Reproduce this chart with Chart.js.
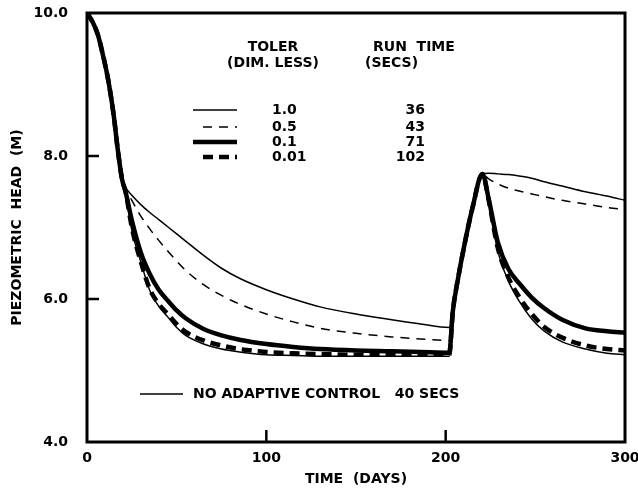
<!DOCTYPE html>
<html>
<head>
<meta charset="utf-8">
<script src="https://cdn.jsdelivr.net/npm/chart.js@4/dist/chart.umd.min.js"></script>
<style>
  body { margin: 0; background: #fff; }
  #wrap { width: 638px; height: 493px; position: relative; }
</style>
</head>
<body>
<div id="wrap"><canvas id="head-chart"></canvas></div>
<script>
// Time axis (days) shared by every run
const days = [0, 3, 6, 9, 12, 15, 17, 19.5, 21.5,
  25, 30, 35, 40, 45, 50, 55,
  65, 75, 85, 100, 115, 130, 150, 170, 186,
  202, 204, 207, 210, 215, 220.5,
  224, 229, 235, 241, 248, 255, 265, 278, 290, 300];

// Piezometric head (m) for each tolerance
const tol10 = [10.0, 9.88, 9.70, 9.40, 9.04, 8.55, 8.12, 7.68, 7.56,
  7.45, 7.32, 7.21, 7.11, 7.01, 6.91, 6.81,
  6.61, 6.43, 6.29, 6.13, 6.00, 5.89, 5.79, 5.71, 5.65,
  5.60, 5.84, 6.30, 6.70, 7.28, 7.75,
  7.76, 7.75, 7.74, 7.72, 7.69, 7.64, 7.58, 7.50, 7.44, 7.38];
const tol05 = [10.0, 9.88, 9.70, 9.40, 9.04, 8.55, 8.12, 7.68, 7.55,
  7.38, 7.16, 6.98, 6.82, 6.67, 6.53, 6.40,
  6.20, 6.05, 5.93, 5.79, 5.68, 5.59, 5.52, 5.47, 5.44,
  5.42, 5.83, 6.30, 6.70, 7.28, 7.75,
  7.68, 7.61, 7.55, 7.51, 7.47, 7.43, 7.38, 7.33, 7.28, 7.25];
const tol01 = [10.0, 9.88, 9.70, 9.40, 9.04, 8.55, 8.12, 7.68, 7.50,
  7.10, 6.65, 6.35, 6.13, 5.98, 5.84, 5.73,
  5.58, 5.49, 5.43, 5.37, 5.33, 5.30, 5.28, 5.27, 5.26,
  5.25, 5.83, 6.30, 6.70, 7.28, 7.75,
  7.40, 6.80, 6.42, 6.22, 6.02, 5.87, 5.71, 5.59, 5.55, 5.53];
const tol001 = [10.0, 9.88, 9.70, 9.40, 9.04, 8.55, 8.12, 7.68, 7.50,
  7.00, 6.52, 6.14, 5.93, 5.79, 5.65, 5.54,
  5.42, 5.35, 5.30, 5.26, 5.24, 5.23, 5.22, 5.22, 5.22,
  5.22, 5.83, 6.30, 6.70, 7.28, 7.75,
  7.38, 6.72, 6.30, 6.03, 5.79, 5.61, 5.46, 5.35, 5.30, 5.28];
const noAdaptive = [10.0, 9.88, 9.70, 9.40, 9.04, 8.55, 8.12, 7.68, 7.48,
  6.96, 6.52, 6.12, 5.90, 5.75, 5.60, 5.49,
  5.37, 5.30, 5.26, 5.22, 5.21, 5.20, 5.20, 5.20, 5.20,
  5.20, 5.83, 6.30, 6.70, 7.28, 7.75,
  7.36, 6.68, 6.25, 5.97, 5.72, 5.55, 5.40, 5.30, 5.24, 5.22];

// Legend table
const tolerLabels = ['1.0', '0.5', '0.1', '0.01'];
const runTimes = ['36', '43', '71', '102'];
const noAdaptiveLabel = 'NO ADAPTIVE CONTROL   40 SECS';

const FONT = '"DejaVu Sans", "Liberation Sans", sans-serif';

function toPoints(values) {
  return days.map((d, i) => ({ x: d, y: values[i] }));
}

function lineSet(values, width, dash) {
  return {
    data: toPoints(values),
    borderColor: '#000',
    borderWidth: width,
    borderDash: dash,
    pointRadius: 0,
    fill: false,
    cubicInterpolationMode: 'monotone',
  };
}

const tolSets = [
  lineSet(tol10, 1.5, []),
  lineSet(tol05, 1.5, [9, 7]),
  lineSet(tol01, 4.5, []),
  lineSet(tol001, 4.5, [10, 6]),
];
const naSet = lineSet(noAdaptive, 1.5, []);

// Box frame and inward ticks
const framePlugin = {
  id: 'frame',
  afterDatasetsDraw(chart) {
    const { ctx, chartArea: a, scales } = chart;
    ctx.save();
    ctx.strokeStyle = '#000';
    ctx.lineWidth = 2.5;
    scales.y.ticks.forEach((t) => {
      if (t.value === scales.y.min || t.value === scales.y.max) return;
      const py = scales.y.getPixelForValue(t.value);
      ctx.beginPath();
      ctx.moveTo(a.left, py);
      ctx.lineTo(a.left + 12, py);
      ctx.stroke();
    });
    scales.x.ticks.forEach((t) => {
      if (t.value === scales.x.min || t.value === scales.x.max) return;
      const px = scales.x.getPixelForValue(t.value);
      ctx.beginPath();
      ctx.moveTo(px, a.bottom);
      ctx.lineTo(px, a.bottom - 12);
      ctx.stroke();
    });
    ctx.lineWidth = 3;
    ctx.strokeRect(a.left, a.top, a.right - a.left, a.bottom - a.top);
    ctx.restore();
  },
};

function sample(ctx, set, x1, x2, y) {
  ctx.save();
  ctx.lineWidth = set.borderWidth;
  ctx.setLineDash(set.borderDash);
  ctx.beginPath();
  ctx.moveTo(x1, y);
  ctx.lineTo(x2, y);
  ctx.stroke();
  ctx.restore();
}

const legendPlugin = {
  id: 'tolerLegend',
  afterDatasetsDraw(chart) {
    const { ctx, chartArea: a } = chart;
    const L = a.left, T = a.top;
    ctx.save();
    ctx.fillStyle = '#000';
    ctx.strokeStyle = '#000';
    ctx.font = 'bold 14px ' + FONT;
    ctx.textBaseline = 'middle';

    ctx.textAlign = 'center';
    ctx.fillText('TOLER', L + 186, T + 34);
    ctx.fillText('(DIM. LESS)', L + 186, T + 50);
    ctx.textAlign = 'left';
    ctx.fillText('RUN  TIME', L + 286, T + 34);
    ctx.fillText('(SECS)', L + 278, T + 50);

    const rows = [97, 114, 129, 144];
    tolSets.forEach((set, i) => {
      const y = T + rows[i];
      const x1 = set.borderDash.length ? L + 116 : L + 106;
      sample(ctx, set, x1, L + 150, y);
      ctx.textAlign = 'left';
      ctx.fillText(tolerLabels[i], L + 185, y);
      ctx.textAlign = 'right';
      ctx.fillText(runTimes[i], L + 338, y);
    });

    sample(ctx, naSet, L + 53, L + 96, T + 381);
    ctx.textAlign = 'left';
    ctx.fillText(noAdaptiveLabel, L + 106, T + 381);
    ctx.restore();
  },
};

const ctx = document.getElementById('head-chart').getContext('2d');
new Chart(ctx, {
  type: 'line',
  data: { datasets: [...tolSets, naSet] },
  options: {
    responsive: true,
    maintainAspectRatio: false,
    animation: false,
    layout: { padding: { top: 13, right: 13, left: 0, bottom: 0 } },
    plugins: {
      legend: { display: false },
      tooltip: { enabled: false },
    },
    scales: {
      x: {
        type: 'linear',
        min: 0,
        max: 300,
        ticks: {
          stepSize: 100,
          color: '#000',
          padding: 8,
          font: { family: FONT, size: 14, weight: 'bold' },
        },
        grid: { display: false, drawTicks: false },
        border: { display: false },
        title: {
          display: true,
          text: 'TIME  (DAYS)',
          color: '#000',
          padding: { top: 0, bottom: 5 },
          font: { family: FONT, size: 14, weight: 'bold' },
        },
        afterFit(scale) {
          scale.height = 51;
          scale.paddingLeft = 0;
          scale.paddingRight = 0;
        },
      },
      y: {
        min: 4,
        max: 10,
        ticks: {
          stepSize: 2,
          color: '#000',
          padding: 19,
          font: { family: FONT, size: 14, weight: 'bold' },
          callback: (v) => v.toFixed(1),
        },
        grid: { display: false, drawTicks: false },
        border: { display: false },
        title: {
          display: true,
          text: 'PIEZOMETRIC  HEAD  (M)',
          color: '#000',
          padding: { top: 9, bottom: 0 },
          font: { family: FONT, size: 14, weight: 'bold' },
        },
        afterFit(scale) {
          scale.width = 87;
          scale.paddingTop = 0;
          scale.paddingBottom = 0;
        },
      },
    },
  },
  plugins: [framePlugin, legendPlugin],
});
</script>
</body>
</html>
